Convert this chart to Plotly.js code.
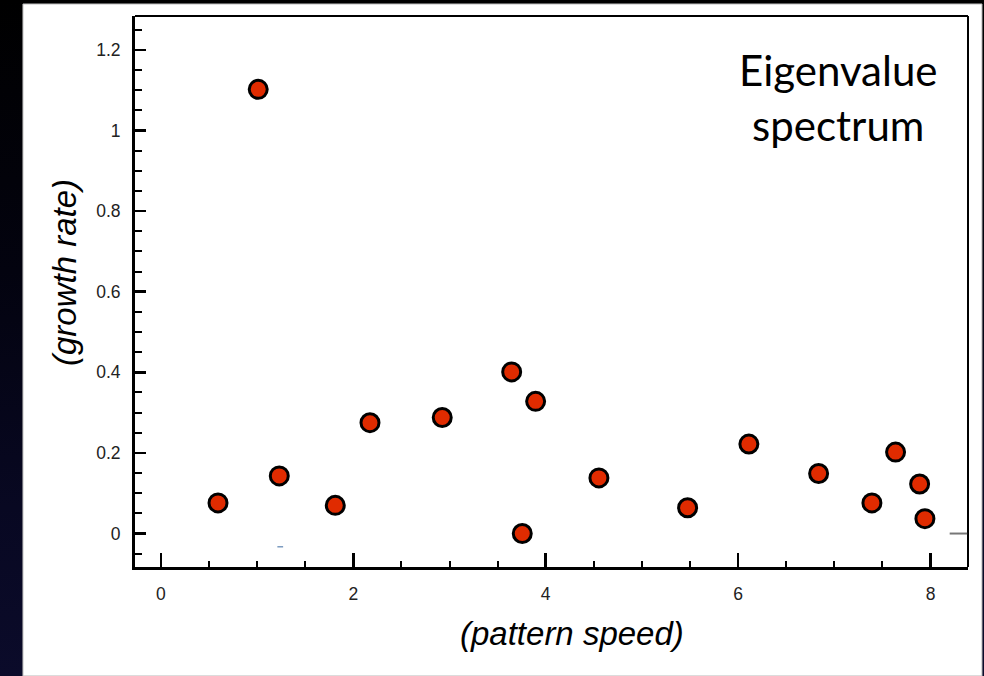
<!DOCTYPE html>
<html>
<head>
<meta charset="utf-8">
<script src="https://cdn.plot.ly/plotly-3.0.1.min.js"></script>
<style>
  html, body { margin: 0; padding: 0; width: 984px; height: 676px; overflow: hidden;
    background: linear-gradient(to bottom, #000000 0%, #03030f 40%, #080822 75%, #0b0b2a 100%); }
  #chart { width: 984px; height: 676px; }
</style>
</head>
<body>
<div id="chart"></div>
<script>
// Data
const patternSpeed = [0.593, 1.011, 1.230, 1.812, 2.173, 2.924, 3.646, 3.756, 3.895, 4.553, 5.475, 6.112, 6.837, 7.391, 7.637, 7.887, 7.942];
const growthRate   = [0.076, 1.102, 0.143, 0.070, 0.275, 0.288, 0.401, 0.000, 0.328, 0.138, 0.064, 0.222, 0.149, 0.076, 0.202, 0.123, 0.037];
const xTickVals = [0, 2, 4, 6, 8];
const xTickText = ["0", "2", "4", "6", "8"];
const yTickVals = [0, 0.2, 0.4, 0.6, 0.8, 1, 1.2];
const yTickText = ["0", "0.2", "0.4", "0.6", "0.8", "1", "1.2"];
const xTitle = "(pattern speed)";
const yTitle = "(growth rate)";
const panelTitle = "Eigenvalue<br>spectrum";

const trace = {
  x: patternSpeed,
  y: growthRate,
  type: 'scatter',
  mode: 'markers',
  marker: { size: 18, color: '#e02b00', line: { color: '#000000', width: 3 } },
  hoverinfo: 'x+y'
};

const tickFont = { family: 'Liberation Sans, Arial, sans-serif', size: 17.5, color: '#222222' };
const titleFont = { family: 'Liberation Sans, Arial, sans-serif', size: 33, color: '#000000' };

const layout = {
  width: 984,
  height: 676,
  margin: { l: 135, r: 16, t: 16, b: 109, pad: 0 },
  paper_bgcolor: 'rgba(0,0,0,0)',
  plot_bgcolor: '#ffffff',
  showlegend: false,
  xaxis: {
    range: [-0.27, 8.39],
    tickvals: xTickVals,
    ticktext: xTickText,
    ticks: 'inside',
    ticklen: 14,
    tickwidth: 2.5,
    tickcolor: '#000000',
    minor: { dtick: 0.5, tick0: 0, ticks: 'inside', ticklen: 6, tickwidth: 2, tickcolor: '#000000', showgrid: false },
    showline: true,
    linecolor: '#000000',
    linewidth: 3,
    showgrid: false,
    zeroline: false,
    tickfont: tickFont,
    ticklabelstandoff: 9
  },
  yaxis: {
    range: [-0.083, 1.284],
    tickvals: yTickVals,
    ticktext: yTickText,
    ticks: 'inside',
    ticklen: 11,
    tickwidth: 2.5,
    tickcolor: '#000000',
    minor: { dtick: 0.05, tick0: 0, ticks: 'inside', ticklen: 7, tickwidth: 2, tickcolor: '#000000', showgrid: false },
    showline: true,
    linecolor: '#000000',
    linewidth: 3,
    showgrid: false,
    zeroline: false,
    tickfont: tickFont,
    ticklabelstandoff: 8
  },
  shapes: [
    // white slide panel behind the chart
    { type: 'rect', xref: 'paper', yref: 'paper', x0: -0.1345, x1: 1.0168, y0: -0.1978, y1: 1.0218,
      fillcolor: '#ffffff', line: { color: '#bbbbbb', width: 1 }, layer: 'below' },
    // top and right frame
    { type: 'line', xref: 'paper', yref: 'paper', x0: 0, x1: 1, y0: 1, y1: 1, line: { color: '#000000', width: 2 } },
    { type: 'line', xref: 'paper', yref: 'paper', x0: 1, x1: 1, y0: 0, y1: 1, line: { color: '#000000', width: 2 } },
    // grey stub at zero on the right edge
    { type: 'line', xref: 'paper', yref: 'y', x0: 0.978, x1: 0.999, y0: 0, y1: 0, line: { color: '#777777', width: 2 } },
    // tiny blue dash
    { type: 'line', xref: 'x', yref: 'y', x0: 1.21, x1: 1.27, y0: -0.033, y1: -0.033, line: { color: '#3a6aa0', width: 1 } }
  ],
  annotations: [
    { text: xTitle, xref: 'paper', yref: 'paper', x: (571.5 - 135) / 833, y: (567 - 633) / 551,
      xanchor: 'center', yanchor: 'middle', showarrow: false,
      font: Object.assign({}, titleFont, { style: 'italic' }) },
    { text: yTitle, xref: 'paper', yref: 'paper', x: (64 - 135) / 833, y: (567 - 273) / 551,
      xanchor: 'center', yanchor: 'middle', showarrow: false, textangle: -90,
      font: Object.assign({}, titleFont, { style: 'italic' }) },
    { text: panelTitle, xref: 'paper', yref: 'paper', x: (838 - 135) / 833, y: (567 - 97) / 551,
      xanchor: 'center', yanchor: 'middle', showarrow: false, align: 'center',
      font: { family: 'Lato, sans-serif', size: 42, color: '#000000' } }
  ]
};

Plotly.newPlot('chart', [trace], layout, { displayModeBar: false, staticPlot: true });
</script>
</body>
</html>
